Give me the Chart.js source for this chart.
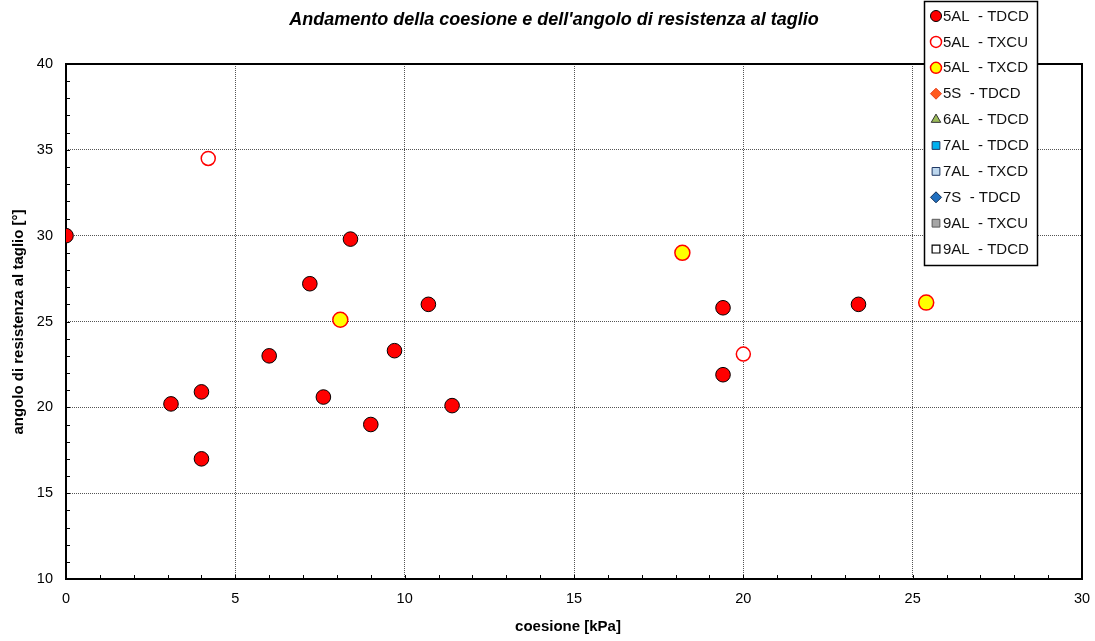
<!DOCTYPE html>
<html>
<head>
<meta charset="utf-8">
<script src="https://cdn.jsdelivr.net/npm/chart.js@4/dist/chart.umd.min.js"></script>
<style>
html,body{margin:0;padding:0;background:#fff;}
#wrap{width:1095px;height:641px;}
</style>
</head>
<body>
<div id="wrap"><canvas id="c" width="1095" height="641"></canvas></div>
<script>
const chartTitle = "Andamento della coesione e dell'angolo di resistenza al taglio";
const xTitle = "coesione [kPa]";
const yTitle = "angolo di resistenza al taglio [°]";
const xTicks = [0, 5, 10, 15, 20, 25, 30];
const yTicks = [10, 15, 20, 25, 30, 35, 40];

const seriesLabels = ["5AL  - TDCD", "5AL  - TXCU", "5AL  - TXCD", "5S  - TDCD", "6AL  - TDCD",
  "7AL  - TDCD", "7AL  - TXCD", "7S  - TDCD", "9AL  - TXCU", "9AL  - TDCD"];

const al5TdcdC = [0, 3.1, 4.0, 4.0, 6.0, 7.2, 7.6, 8.4, 9.0, 9.7, 10.7, 11.4, 19.4, 19.4, 23.4];
const al5TdcdPhi = [30.0, 20.2, 20.9, 17.0, 23.0, 27.2, 20.6, 29.8, 19.0, 23.3, 26.0, 20.1, 25.8, 21.9, 26.0];
const al5TxcuC = [4.2, 20.0];
const al5TxcuPhi = [34.5, 23.1];
const al5TxcdC = [8.1, 18.2, 25.4];
const al5TxcdPhi = [25.1, 29.0, 26.1];

function pts(xs, ys){ return xs.map((x,i)=>({x:x, y:ys[i]})); }

const styles = [
  {pointStyle:'circle', backgroundColor:'#FF0000', borderColor:'#000000', borderWidth:1, radius:7.3},
  {pointStyle:'circle', backgroundColor:'#FFFFFF', borderColor:'#FF0000', borderWidth:1.5, radius:7},
  {pointStyle:'circle', backgroundColor:'#FFFF00', borderColor:'#FF0000', borderWidth:1.5, radius:7.5},
  {pointStyle:'rectRot', backgroundColor:'#FF5A1E', borderColor:'#E8401C', borderWidth:1, radius:6},
  {pointStyle:'triangle', backgroundColor:'#9BBB59', borderColor:'#333333', borderWidth:1, radius:6},
  {pointStyle:'rect', backgroundColor:'#00B0F0', borderColor:'#1F3864', borderWidth:1, radius:6},
  {pointStyle:'rect', backgroundColor:'#BDD7EE', borderColor:'#1F3864', borderWidth:1, radius:6},
  {pointStyle:'rectRot', backgroundColor:'#1F6FBF', borderColor:'#0F2D55', borderWidth:1, radius:6},
  {pointStyle:'rect', backgroundColor:'#A6A6A6', borderColor:'#595959', borderWidth:1, radius:6},
  {pointStyle:'rect', backgroundColor:'#FFFFFF', borderColor:'#000000', borderWidth:1.2, radius:6}
];
const seriesData = [pts(al5TdcdC, al5TdcdPhi), pts(al5TxcuC, al5TxcuPhi), pts(al5TxcdC, al5TxcdPhi), [], [], [], [], [], [], []];

const datasets = seriesLabels.map((lab,i)=>({
  label: lab,
  data: seriesData[i],
  showLine:false,
  pointStyle: styles[i].pointStyle,
  pointRadius: styles[i].radius,
  pointHoverRadius: styles[i].radius,
  pointBackgroundColor: styles[i].backgroundColor,
  pointBorderColor: styles[i].borderColor,
  pointBorderWidth: styles[i].borderWidth,
  backgroundColor: styles[i].backgroundColor,
  borderColor: styles[i].borderColor
}));

const FONT = "'Liberation Sans', Arial, sans-serif";

const decor = {
  id:'decor',
  beforeDatasetsDraw(chart){
    const {ctx, chartArea:a, scales:{x,y}} = chart;
    ctx.save();
    ctx.strokeStyle = '#000'; ctx.lineWidth = 1;
    for(let v=1; v<30; v++){
      const px = Math.round(x.getPixelForValue(v))+0.5;
      ctx.beginPath(); ctx.moveTo(px, a.bottom); ctx.lineTo(px, a.bottom-4); ctx.stroke();
    }
    for(let v=11; v<40; v++){
      const py = Math.round(y.getPixelForValue(v))+0.5;
      ctx.beginPath(); ctx.moveTo(a.left, py); ctx.lineTo(a.left+4, py); ctx.stroke();
    }
    ctx.lineWidth = 2;
    ctx.strokeRect(a.left, a.top, a.right-a.left, a.bottom-a.top);
    ctx.restore();
  },
  afterDraw(chart){
    const {ctx} = chart;
    ctx.save();
    ctx.fillStyle = '#000';
    ctx.textAlign = 'center'; ctx.textBaseline = 'middle';
    ctx.font = "italic bold 18px " + FONT;
    ctx.fillText(chartTitle, 554, 20);
    ctx.font = "bold 15px " + FONT;
    ctx.fillText(xTitle, 568, 627);
    ctx.save();
    ctx.translate(19, 322);
    ctx.rotate(-Math.PI/2);
    ctx.fillText(yTitle, 0, 0);
    ctx.restore();
    // legend
    const lx = 924, ly = 1, lw = 113, lh = 264;
    ctx.fillStyle = '#fff';
    ctx.fillRect(lx, ly, lw, lh);
    ctx.strokeStyle = '#000'; ctx.lineWidth = 1.5;
    ctx.strokeRect(lx+0.5, ly+0.5, lw, lh);
    ctx.font = "15px " + FONT;
    ctx.textAlign = 'left';
    chart.data.datasets.forEach((ds,i)=>{
      const cy = 16 + i*25.9;
      const s = styles[i];
      ctx.fillStyle = s.backgroundColor; ctx.strokeStyle = s.borderColor; ctx.lineWidth = s.borderWidth;
      Chart.helpers.drawPoint(ctx, {pointStyle:s.pointStyle, radius:5.5, borderWidth:s.borderWidth, rotation:0}, 936, cy);
      ctx.fillStyle = '#111';
      ctx.fillText(ds.label, 943, cy+0.5);
    });
    ctx.restore();
  }
};

new Chart(document.getElementById('c'), {
  type:'scatter',
  data:{datasets},
  options:{
    responsive:false,
    animation:false,
    layout:{padding:{top:64, right:13, left:0, bottom:0}},
    plugins:{legend:{display:false}, title:{display:false}, tooltip:{enabled:false}},
    scales:{
      x:{
        type:'linear', min:0, max:30,
        afterFit(s){ s.height = 62; s.paddingRight = 0; s.paddingLeft = 0; },
        afterBuildTicks(s){ s.ticks = []; for(let v=0; v<=30; v++) s.ticks.push({value:v}); },
        ticks:{autoSkip:false, maxRotation:0, padding:11, color:'#000', font:{family:FONT, size:14.5},
          callback:(v)=> xTicks.includes(v) ? String(v) : ''},
        grid:{drawTicks:false, lineWidth:1,
          color:(c)=> (c.tick && c.tick.value%5===0 && c.tick.value>0 && c.tick.value<30) ? '#555' : 'rgba(0,0,0,0)'},
        border:{display:false, dash:[1,1]}
      },
      y:{
        type:'linear', min:10, max:40,
        afterFit(s){ s.width = 66; s.paddingTop = 0; s.paddingBottom = 0; },
        afterBuildTicks(s){ s.ticks = []; for(let v=10; v<=40; v++) s.ticks.push({value:v}); },
        ticks:{autoSkip:false, padding:13, color:'#000', font:{family:FONT, size:14.5},
          callback:(v)=> yTicks.includes(v) ? String(v) : ''},
        grid:{drawTicks:false, lineWidth:1,
          color:(c)=> (c.tick && c.tick.value%5===0 && c.tick.value>10 && c.tick.value<40) ? '#555' : 'rgba(0,0,0,0)'},
        border:{display:false, dash:[1,1]}
      }
    }
  },
  plugins:[decor]
});
</script>
</body>
</html>
